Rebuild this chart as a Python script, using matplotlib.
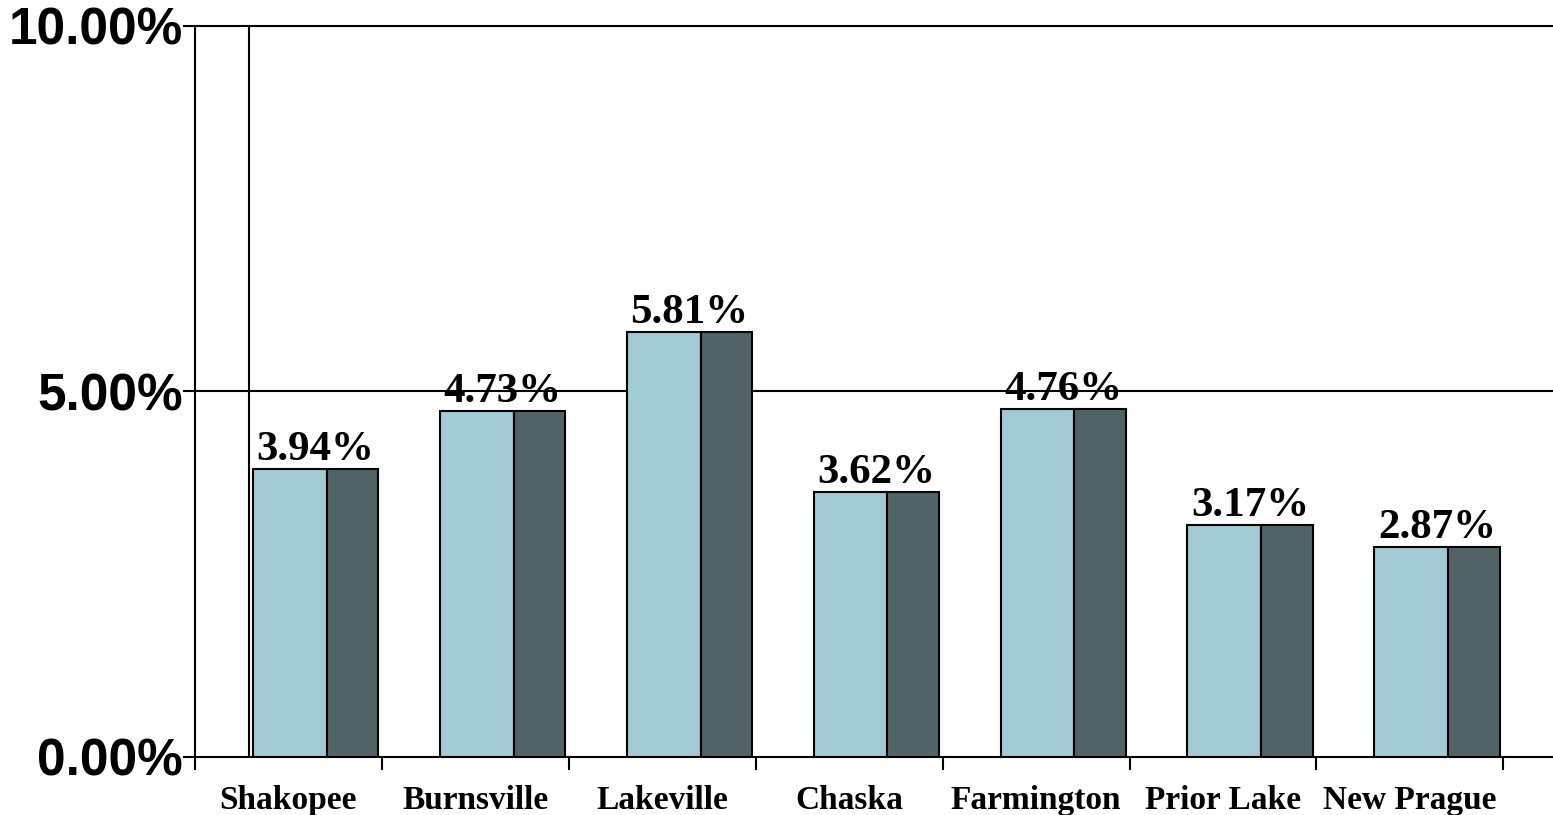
import numpy as np
import matplotlib
matplotlib.use("Agg")
import matplotlib.pyplot as plt

# city names and the two (equal) series
cities = ["Shakopee", "Burnsville", "Lakeville", "Chaska",
          "Farmington", "Prior Lake", "New Prague"]
front = [3.94, 4.73, 5.81, 3.62, 4.76, 3.17, 2.87]
back = [3.94, 4.73, 5.81, 3.62, 4.76, 3.17, 2.87]
ytick_vals = [0, 5, 10]
ytick_labels = ["0.00%", "5.00%", "10.00%"]

light = "#a2cad4"
dark = "#506468"

W, H = 1553, 815
fig = plt.figure(figsize=(W / 100, H / 100), dpi=100)
ax = fig.add_axes([195 / W, (H - 757) / H, (W - 195) / W, (757 - 26) / H])

x = np.arange(len(cities))
ax.bar(x + 0.31, front, width=0.395, align="edge", color=light,
       edgecolor="black", linewidth=1.5, zorder=3)
ax.bar(x + 0.705, back, width=0.275, align="edge", color=dark,
       edgecolor="black", linewidth=1.5, zorder=3)

for xi, v in zip(x, front):
    ax.annotate("%.2f%%" % v, (xi + 0.645, v), xytext=(0, 0),
                textcoords="offset points", ha="center", va="bottom",
                fontsize=31, fontweight="bold", family="Liberation Serif")

ax.set_xlim(0, (W - 195) / 186.9)
ax.set_ylim(0, 10)

ax.set_yticks(ytick_vals)
ax.set_yticklabels(ytick_labels, fontsize=37, fontweight="bold",
                   family="Liberation Sans")
ax.tick_params(axis="y", length=9, width=1.5, pad=0)

ax.set_xticks(np.arange(len(cities) + 1))
ax.set_xticklabels([])
ax.set_xticks(x + 0.5, minor=True)
ax.set_xticklabels(cities, minor=True, fontsize=24, fontweight="bold",
                   family="Liberation Serif")
ax.tick_params(axis="x", which="major", length=9, width=1.5, direction="out")
ax.tick_params(axis="x", which="minor", length=0, pad=20)

ax.axhline(5, color="black", linewidth=1.5, zorder=1)
ax.axvline(54 / 186.9, color="black", linewidth=1.5, zorder=1)

for s in ["left", "bottom", "top"]:
    ax.spines[s].set_linewidth(1.5)
ax.spines["right"].set_visible(False)

fig.savefig("out.png", dpi=100)
